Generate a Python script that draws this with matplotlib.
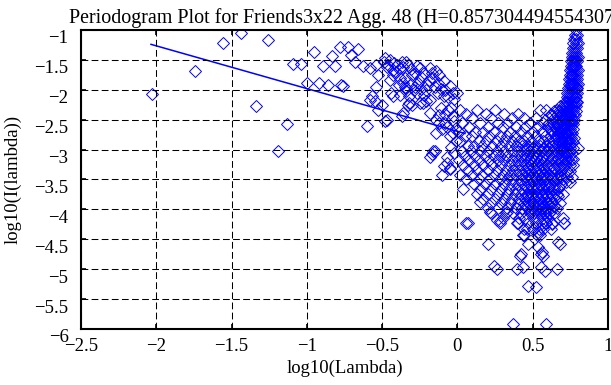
import numpy as np
import matplotlib
matplotlib.use('Agg')
import matplotlib.pyplot as plt
import matplotlib.transforms as mtransforms

#-----------------------------
#values
title_text = 'Periodogram Plot for Friends3x22 Agg. 48 (H=0.857304494554307)'
xticks = [-2.5, -2, -1.5, -1, -0.5, 0, 0.5, 1]
xtick_labels = ['\u22122.5', '\u22122', '\u22121.5', '\u22121', '\u22120.5', '0', '0.5', '1']
yticks = [-6, -5.5, -5, -4.5, -4, -3.5, -3, -2.5, -2, -1.5, -1]
ytick_labels = ['\u22126', '\u22125.5', '\u22125', '\u22124.5', '\u22124', '\u22123.5',
                '\u22123', '\u22122.5', '\u22122', '\u22121.5', '\u22121']

# low frequencies, single points (log10 lambda, log10 I)
low_freq = [
    (-2.03, -2.07), (-1.74, -1.68), (-1.56, -1.22), (-1.44, -1.05), (-1.34, -2.27),
    (-1.26, -1.17), (-1.19, -3.02), (-1.13, -2.57), (-1.09, -1.57), (-1.04, -1.57),
    (-1.00, -1.89), (-0.95, -1.37), (-0.92, -1.89), (-0.89, -1.61), (-0.86, -1.92),
    (-0.83, -1.43), (-0.81, -1.61), (-0.78, -1.29), (-0.77, -1.92), (-0.76, -1.93),
    (-0.725, -1.28), (-0.71, -1.42), (-0.68, -1.53), (-0.66, -1.32), (-0.625, -1.61),
    (-0.60, -2.61), (-0.58, -1.64), (-0.58, -2.17), (-0.57, -2.11), (-0.55, -2.19),
    (-0.54, -1.58), (-0.54, -1.95), (-0.53, -1.75), (-0.53, -2.33), (-0.50, -2.25),
    (-0.49, -1.53), (-0.48, -1.47), (-0.48, -2.53), (-0.47, -2.50), (-0.46, -1.58),
    (-0.45, -1.50), (-0.45, -1.83), (-0.44, -2.06), (-0.43, -1.75), (-0.43, -1.67),
    (-0.43, -2.11), (-0.40, -1.58), (-0.39, -1.92), (-0.38, -1.64), (-0.38, -2.08),
    (-0.38, -1.80), (-0.37, -1.53), (-0.37, -2.44), (-0.36, -2.39), (-0.35, -1.80),
    (-0.34, -1.53), (-0.34, -1.97), (-0.33, -1.58), (-0.33, -2.25), (-0.32, -2.11),
    (-0.32, -2.22), (-0.30, -1.75), (-0.30, -2.25), (-0.29, -2.00), (-0.27, -1.61),
    (-0.26, -1.89), (-0.25, -1.64), (-0.25, -2.22), (-0.23, -2.22), (-0.22, -1.72),
    (-0.21, -2.00), (-0.21, -2.19), (-0.18, -1.64), (-0.18, -2.17), (-0.18, -2.39),
    (-0.18, -3.13), (-0.17, -3.08), (-0.16, -1.80), (-0.16, -3.03), (-0.15, -3.03),
    (-0.14, -1.69), (-0.14, -2.50), (-0.14, -2.72), (-0.12, -1.75), (-0.12, -2.42),
    (-0.12, -2.55), (-0.10, -3.43), (-0.09, -1.86), (-0.09, -2.11), (-0.09, -3.28),
    (-0.08, -2.55), (-0.07, -2.62), (-0.07, -3.12), (-0.07, -3.22), (-0.06, -2.33),
    (-0.05, -1.94), (-0.05, -2.78), (-0.05, -3.30), (-0.05, -3.33), (-0.03, -2.06),
    (-0.03, -2.44), (-0.01, -2.64),
    (-0.36, -1.88), (-0.35, -1.95), (-0.34, -2.02), (-0.31, -1.90), (-0.28, -1.95),
    (-0.27, -2.05), (-0.24, -1.98), (-0.22, -2.08), (-0.20, -1.92), (-0.15, -1.95),
    (-0.13, -2.05), (-0.11, -1.98), (-0.08, -2.00), (-0.06, -2.12), (-0.02, -2.15),
    (0.00, -2.05), (-0.11, -2.30), (-0.08, -2.40), (-0.04, -2.30), (-0.02, -2.52),
    (-0.10, -2.65), (-0.03, -2.72), (-0.01, -2.85), (-0.04, -2.95), (-0.02, -3.05),
    (-0.47, -1.62), (-0.42, -1.55), (-0.41, -1.70), (-0.36, -1.62), (-0.31, -1.66),
    (-0.28, -1.72), (-0.24, -1.78), (-0.19, -1.84), (-0.17, -1.72), (-0.13, -1.88),
]

# dense part at high frequencies, as rows: (log10 I, [log10 lambda, ...])
blob_rows = [
    (-2.33, [0.02, 0.13, 0.25, 0.55, 0.59, 0.66]),
    (-2.40, [0.06, 0.19, 0.31, 0.40, 0.62, 0.69]),
    (-2.47, [0.10, 0.22, 0.36, 0.44, 0.52, 0.64, 0.70]),
    (-2.55, [0.03, 0.15, 0.27, 0.33, 0.48, 0.57, 0.61, 0.67]),
    (-2.63, [0.08, 0.20, 0.30, 0.39, 0.45, 0.53, 0.60, 0.65, 0.70]),
    (-2.70, [0.01, 0.12, 0.17, 0.24, 0.35, 0.42, 0.50, 0.56, 0.63, 0.68]),
    (-2.78, [0.05, 0.10, 0.21, 0.28, 0.33, 0.38, 0.46, 0.52, 0.58, 0.62, 0.66, 0.70]),
    (-2.86, [0.02, 0.14, 0.19, 0.26, 0.31, 0.36, 0.41, 0.44, 0.49, 0.54, 0.57, 0.61, 0.64, 0.69]),
    (-2.94, [0.07, 0.11, 0.16, 0.23, 0.29, 0.34, 0.39, 0.43, 0.47, 0.51, 0.55, 0.59, 0.63, 0.67, 0.71]),
    (-3.02, [0.03, 0.09, 0.15, 0.20, 0.26, 0.31, 0.36, 0.40, 0.45, 0.48, 0.52, 0.56, 0.60, 0.64, 0.68]),
    (-3.10, [0.05, 0.12, 0.18, 0.24, 0.28, 0.33, 0.38, 0.42, 0.46, 0.50, 0.53, 0.57, 0.61, 0.65, 0.70]),
    (-3.18, [0.01, 0.08, 0.14, 0.21, 0.27, 0.31, 0.36, 0.40, 0.44, 0.48, 0.51, 0.55, 0.58, 0.62, 0.66, 0.69]),
    (-3.26, [0.04, 0.11, 0.17, 0.23, 0.29, 0.34, 0.38, 0.42, 0.46, 0.49, 0.53, 0.56, 0.60, 0.63, 0.67, 0.71]),
    (-3.34, [0.07, 0.13, 0.20, 0.26, 0.32, 0.37, 0.41, 0.45, 0.48, 0.52, 0.55, 0.58, 0.62, 0.65, 0.69]),
    (-3.42, [0.02, 0.10, 0.16, 0.24, 0.30, 0.35, 0.39, 0.43, 0.47, 0.50, 0.54, 0.57, 0.61, 0.64, 0.68]),
    (-3.50, [0.06, 0.14, 0.21, 0.28, 0.33, 0.37, 0.42, 0.46, 0.49, 0.52, 0.56, 0.59, 0.63, 0.66, 0.70]),
    (-3.58, [0.11, 0.18, 0.25, 0.31, 0.36, 0.40, 0.44, 0.48, 0.51, 0.54, 0.58, 0.61, 0.65, 0.69]),
    (-3.66, [0.04, 0.15, 0.22, 0.29, 0.34, 0.39, 0.43, 0.47, 0.50, 0.53, 0.57, 0.60, 0.64, 0.67]),
    (-3.74, [0.13, 0.20, 0.27, 0.33, 0.38, 0.42, 0.46, 0.49, 0.52, 0.56, 0.59, 0.62, 0.66, 0.70]),
    (-3.82, [0.17, 0.25, 0.31, 0.36, 0.41, 0.45, 0.48, 0.51, 0.55, 0.58, 0.61, 0.65]),
    (-3.90, [0.22, 0.29, 0.35, 0.40, 0.44, 0.47, 0.50, 0.54, 0.57, 0.60, 0.63, 0.68]),
    (-3.98, [0.20, 0.27, 0.33, 0.39, 0.43, 0.46, 0.49, 0.53, 0.56, 0.59, 0.62, 0.66]),
    (-4.06, [0.22, 0.32, 0.37, 0.42, 0.48, 0.51, 0.55, 0.58, 0.61, 0.64]),
    (-4.14, [0.30, 0.41, 0.45, 0.50, 0.53, 0.57, 0.60, 0.70]),
    (-4.22, [0.06, 0.28, 0.40, 0.47, 0.52, 0.56, 0.59, 0.63, 0.71]),
    (-4.32, [0.44, 0.50, 0.54, 0.57, 0.62]),
    (-4.42, [0.44, 0.53, 0.55]),
    # extra rows where the cloud is solid
    (-2.98, [0.465, 0.50, 0.535, 0.57, 0.605, 0.64, 0.675, 0.70]),
    (-3.14, [0.455, 0.49, 0.525, 0.56, 0.595, 0.63, 0.665, 0.69]),
    (-3.30, [0.465, 0.50, 0.535, 0.57, 0.605, 0.64, 0.675, 0.70]),
    (-3.46, [0.455, 0.49, 0.525, 0.56, 0.595, 0.63, 0.665, 0.69]),
    (-3.62, [0.465, 0.50, 0.535, 0.57, 0.605, 0.64, 0.675]),
    (-3.78, [0.455, 0.49, 0.525, 0.56, 0.595, 0.63, 0.665]),
    (-3.94, [0.465, 0.50, 0.535, 0.57, 0.605, 0.64]),
    (-4.02, [0.48, 0.515, 0.55, 0.585, 0.62]),
]

# rising arm near lambda = 2*pi
arm_rows = [
    (-1.00, [0.79]),
    (-1.08, [0.78, 0.795]),
    (-1.15, [0.775, 0.79]),
    (-1.22, [0.77, 0.785, 0.798]),
    (-1.30, [0.765, 0.78, 0.795]),
    (-1.38, [0.76, 0.775, 0.79]),
    (-1.45, [0.76, 0.772, 0.785, 0.798]),
    (-1.52, [0.755, 0.767, 0.78, 0.795]),
    (-1.60, [0.752, 0.765, 0.778, 0.79]),
    (-1.67, [0.75, 0.762, 0.775, 0.787, 0.798]),
    (-1.75, [0.745, 0.758, 0.77, 0.782, 0.795]),
    (-1.82, [0.742, 0.755, 0.768, 0.78, 0.792]),
    (-1.90, [0.74, 0.752, 0.765, 0.777, 0.79, 0.798]),
    (-1.97, [0.735, 0.748, 0.76, 0.772, 0.785, 0.796]),
    (-2.05, [0.73, 0.744, 0.757, 0.77, 0.782, 0.794]),
    (-2.12, [0.725, 0.74, 0.753, 0.766, 0.779, 0.79]),
    (-2.20, [0.715, 0.73, 0.745, 0.76, 0.772, 0.785, 0.797]),
    (-2.27, [0.68, 0.70, 0.715, 0.73, 0.745, 0.76, 0.775, 0.79]),
    (-2.35, [0.64, 0.675, 0.695, 0.71, 0.725, 0.74, 0.755, 0.77, 0.785]),
    (-2.42, [0.62, 0.66, 0.685, 0.705, 0.72, 0.735, 0.75, 0.765, 0.78]),
    (-2.50, [0.58, 0.645, 0.675, 0.695, 0.715, 0.73, 0.745, 0.76, 0.775]),
    (-2.57, [0.60, 0.635, 0.665, 0.69, 0.71, 0.725, 0.74, 0.755, 0.77]),
    (-2.65, [0.62, 0.655, 0.68, 0.70, 0.72, 0.735, 0.75, 0.765]),
    (-2.72, [0.64, 0.67, 0.695, 0.715, 0.73, 0.745, 0.76]),
    (-2.80, [0.655, 0.685, 0.705, 0.725, 0.74, 0.755, 0.775]),
    (-2.88, [0.675, 0.70, 0.72, 0.735, 0.75, 0.77]),
    (-2.97, [0.69, 0.71, 0.73, 0.745, 0.765, 0.798]),
    (-3.05, [0.705, 0.725, 0.74, 0.76]),
    (-3.15, [0.715, 0.735, 0.755, 0.77]),
    (-3.25, [0.72, 0.745, 0.765]),
    (-3.35, [0.725, 0.75]),
    (-3.45, [0.73, 0.76]),
    (-3.55, [0.72, 0.745]),
]

# scattered low values under the cloud
tail = [
    (0.205, -4.58), (0.415, -4.78), (0.425, -4.75), (0.47, -4.58), (0.535, -4.63),
    (0.558, -4.75), (0.568, -4.78), (0.56, -4.72), (0.68, -4.58), (0.67, -4.55),
    (0.26, -5.00), (0.24, -4.95), (0.393, -4.99), (0.436, -4.97), (0.558, -4.97),
    (0.58, -5.03), (0.66, -4.99), (0.47, -5.28), (0.525, -5.30), (0.37, -5.92),
    (0.59, -5.92), (0.28, -4.20), (0.26, -4.17), (0.15, -3.88), (0.216, -4.05),
    (0.33, -4.05), (0.395, -4.22), (0.46, -4.33), (0.437, -4.42), (0.535, -4.38),
    (0.07, -4.22), (0.71, -4.23), (0.59, -4.22), (0.63, -4.25),
]

# fitted line (end points)
fit_x = [-2.035, 0.05]
fit_y = [-1.24, -2.73]

#------------------------------
#collect points
px = [p[0] for p in low_freq] + [p[0] for p in tail]
py = [p[1] for p in low_freq] + [p[1] for p in tail]
for yv, xs in blob_rows + arm_rows:
    px += xs
    py += [yv] * len(xs)

#------------------------------
#build plot
plt.rcParams['font.family'] = ['Liberation Serif', 'DejaVu Serif']
fig = plt.figure(figsize=(6.11, 3.85), dpi=100)
ax = fig.add_axes([81 / 611, 1 - 329 / 385, 527 / 611, 299 / 385])

ax.plot(px, py, linestyle='none', marker='D', markersize=6.6,
        markerfacecolor='none', markeredgecolor='#0000ff', markeredgewidth=0.7)
ax.plot(fit_x, fit_y, color='#0000ff', linewidth=1.1)

ax.set_xlim(-2.5, 1)
ax.set_ylim(-6, -1)
ax.set_xticks(xticks)
ax.set_xticklabels(xtick_labels)
ax.set_yticks(yticks)
ax.set_yticklabels(ytick_labels)

ax.set_axisbelow(False)
ax.grid(True, color='black', linewidth=0.75, linestyle=(0, (6.5, 3.2)))
ax.tick_params(direction='in', length=3.6, width=1.2, top=True, right=True,
               labelsize=13.5, pad=6.5)
ax.tick_params(axis='y', pad=9)
for s in ax.spines.values():
    s.set_linewidth(1.5)

# matlab puts the y labels a bit lower than the ticks
off = mtransforms.ScaledTranslation(0, -7 / 100, fig.dpi_scale_trans)
for lab in ax.get_yticklabels():
    lab.set_transform(lab.get_transform() + off)

ax.set_xlabel('log10(Lambda)', fontsize=13.5, labelpad=3)
ax.set_ylabel('log10(I(lambda))', fontsize=13.5)
ax.yaxis.set_label_coords(-0.112, 0.5)
ax.set_title(title_text, fontsize=14.4, pad=5)

fig.savefig('out.png', dpi=100)
